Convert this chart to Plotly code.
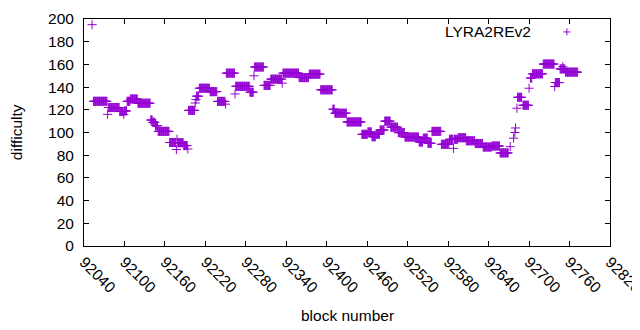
import plotly.graph_objects as go

# Runs of consecutive blocks sharing one difficulty value
run_start = [92052, 92054, 92075, 92076, 92093, 92099, 92100, 92104, 92109, 92120,
             92139, 92142, 92146, 92150, 92167, 92177, 92178, 92179, 92188, 92194,
             92195, 92205, 92206, 92207, 92211, 92227, 92238, 92250, 92251, 92264,
             92265, 92286, 92292, 92293, 92307, 92317, 92334, 92335, 92359, 92374,
             92391, 92409, 92412, 92430, 92452, 92461, 92467, 92473, 92479, 92486,
             92495, 92506, 92516, 92537, 92543, 92550, 92556, 92570, 92582, 92588,
             92589, 92595, 92607, 92620, 92632, 92645, 92657, 92672, 92677, 92679,
             92680, 92682, 92683, 92691, 92700, 92702, 92705, 92721, 92738, 92739,
             92746, 92750, 92751, 92754]
run_end = [92052, 92074, 92075, 92092, 92098, 92099, 92103, 92108, 92119, 92138,
           92141, 92145, 92149, 92166, 92176, 92177, 92178, 92187, 92193, 92194,
           92204, 92205, 92206, 92210, 92226, 92237, 92249, 92250, 92263, 92264,
           92285, 92291, 92292, 92306, 92316, 92333, 92334, 92358, 92373, 92390,
           92408, 92411, 92429, 92451, 92460, 92466, 92472, 92478, 92485, 92494,
           92505, 92515, 92536, 92542, 92549, 92555, 92569, 92581, 92587, 92588,
           92594, 92606, 92619, 92631, 92644, 92656, 92669, 92672, 92677, 92679,
           92680, 92682, 92689, 92699, 92700, 92704, 92720, 92737, 92738, 92745,
           92749, 92750, 92753, 92772]
run_diff = [195, 127.5, 116, 122, 118.5, 116, 119, 127.5, 129.5, 125.8,
            111, 109, 106, 101, 91.2, 85, 94, 91, 88.5, 85.5,
            119.5, 126, 129, 132, 139, 136, 127.4, 125, 152.3, 134,
            140.7, 135.5, 150, 157.7, 141.5, 147, 143.5, 152.3, 148.4, 151.4,
            137.6, 120.5, 117, 109.3, 98.4, 100.5, 96.3, 98.5, 102.2, 110,
            104.7, 99.9, 96, 91.6, 95, 90.5, 101, 89.6, 94, 86,
            94, 95.4, 92.7, 90.3, 87.2, 88.1, 82, 87.5, 95, 100,
            104, 121.4, 131, 124, 139, 148, 151.7, 160.3, 140.5, 144,
            156, 158, 156, 153.2]

x_tickvals = [92040, 92100, 92160, 92220, 92280, 92340, 92400, 92460,
              92520, 92580, 92640, 92700, 92760, 92820]
y_tickvals = [0, 20, 40, 60, 80, 100, 120, 140, 160, 180, 200]

blocks, diffs = [], []
for s, e, d in zip(run_start, run_end, run_diff):
    for b in range(s, e + 1):
        blocks.append(b)
        diffs.append(d)

COLOR = "#9400d3"
FONT = "Liberation Sans, Arial, sans-serif"

fig = go.Figure()
fig.add_trace(go.Scatter(
    x=blocks, y=diffs, mode="markers", name="LYRA2REv2",
    marker=dict(symbol="cross-thin", size=6.5, line=dict(color=COLOR, width=1), color=COLOR),
    showlegend=False, cliponaxis=False,
))

axis_common = dict(showgrid=False, zeroline=False, showline=True, linecolor="black",
                   linewidth=1, mirror="allticks", ticks="inside", ticklen=5,
                   tickcolor="black", automargin=False, ticklabeloverflow="allow",
                   tickfont=dict(family=FONT, size=15.5, color="black"))

fig.update_xaxes(range=[92040, 92820], tickvals=x_tickvals,
                 ticktext=[str(v) for v in x_tickvals], tickangle=45, **axis_common)
fig.update_yaxes(range=[0, 200], tickvals=y_tickvals, ticklabelstandoff=6, **axis_common)

# legend (gnuplot style: text then marker)
pw, ph = 526, 227
lx, ly = 0.918, 0.943
dx, dy = 3.5 / pw, 3.5 / ph
fig.add_annotation(x=0.854, y=ly, xref="paper", yref="paper", text="LYRA2REv2",
                   showarrow=False, xanchor="right", yanchor="middle",
                   font=dict(family=FONT, size=15.5, color="black"))
fig.add_shape(type="line", xref="paper", yref="paper", x0=lx - dx, x1=lx + dx, y0=ly, y1=ly,
              line=dict(color=COLOR, width=1))
fig.add_shape(type="line", xref="paper", yref="paper", x0=lx, x1=lx, y0=ly - dy, y1=ly + dy,
              line=dict(color=COLOR, width=1))

fig.add_annotation(x=0.5, y=-0.305, xref="paper", yref="paper", text="block number",
                   showarrow=False, xanchor="center", yanchor="middle",
                   font=dict(family=FONT, size=15.5, color="black"))
fig.add_annotation(x=-0.128, y=0.5, xref="paper", yref="paper", text="difficulty",
                   showarrow=False, textangle=-90, xanchor="center", yanchor="middle",
                   font=dict(family=FONT, size=15.5, color="black"))

# page body has an 8px default margin, so the figure is 8px smaller and shifted
fig.update_layout(width=632, height=322, margin=dict(l=76, r=30, t=11, b=84),
                  plot_bgcolor="white", paper_bgcolor="white",
                  font=dict(family=FONT, size=15.5, color="black"))

fig.write_html("out.html")
